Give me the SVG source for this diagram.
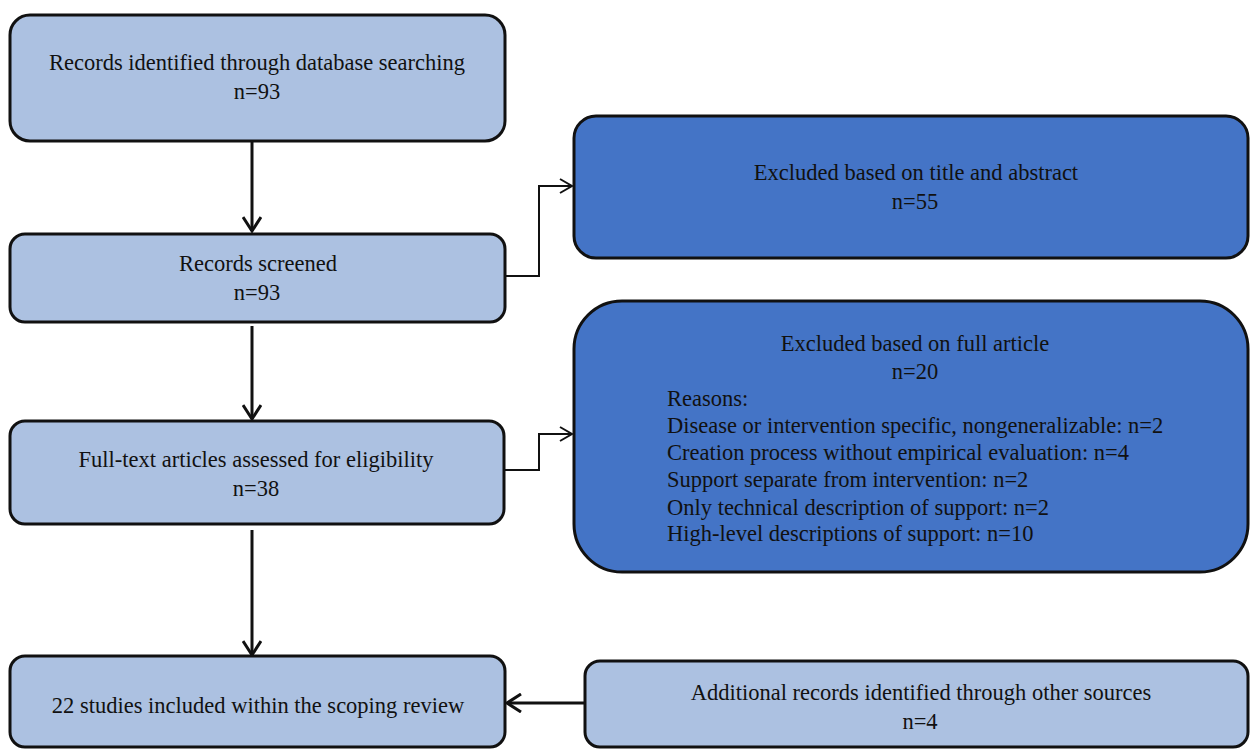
<svg xmlns="http://www.w3.org/2000/svg" width="1250" height="749" viewBox="0 0 1250 749">
  <style>
    .light { fill: #acc1e1; stroke: #111; stroke-width: 3; }
    .dark { fill: #4474c6; stroke: #111; stroke-width: 3; }
    text { font-family: "Liberation Serif", "Times New Roman", serif; font-size: 22.5px; fill: #111; }
    .c { text-anchor: middle; }
    .thick { stroke: #111; stroke-width: 3; fill: none; }
    .thin { stroke: #111; stroke-width: 2; fill: none; }
  </style>
  <defs>
    <marker id="arrowBig" viewBox="0 0 20 20" refX="17" refY="10" markerWidth="20" markerHeight="20" markerUnits="userSpaceOnUse" orient="auto">
      <path d="M3,1 L17,10 L3,19" fill="none" stroke="#111" stroke-width="3"/>
    </marker>
    <marker id="arrowThin" viewBox="0 0 16 16" refX="14" refY="8" markerWidth="16" markerHeight="16" markerUnits="userSpaceOnUse" orient="auto">
      <path d="M2,1 L14,8 L2,15" fill="none" stroke="#111" stroke-width="2"/>
    </marker>
  </defs>
  <rect width="1250" height="749" fill="#ffffff"/>

  <g id="connectors">
    <path class="thick" d="M252,141 V231" marker-end="url(#arrowBig)"/>
    <path class="thick" d="M252,326 V419" marker-end="url(#arrowBig)"/>
    <path class="thick" d="M252,530 V655" marker-end="url(#arrowBig)"/>
    <path class="thick" d="M585,703 H507" marker-end="url(#arrowBig)"/>
    <path class="thin" d="M505,276 H539 V186 H572" marker-end="url(#arrowThin)"/>
    <path class="thin" d="M505,470 H539 V434 H572" marker-end="url(#arrowThin)"/>
  </g>

  <g id="records-identified">
    <rect class="light" x="10" y="15" width="495" height="126" rx="20"/>
    <text class="c" x="257" y="70">Records identified  through  database searching</text>
    <text class="c" x="257" y="99">n=93</text>
  </g>

  <g id="records-screened">
    <rect class="light" x="10" y="234" width="495" height="88" rx="15"/>
    <text class="c" x="258" y="271">Records screened</text>
    <text class="c" x="257" y="300">n=93</text>
  </g>

  <g id="full-text">
    <rect class="light" x="10" y="421" width="494" height="103" rx="15"/>
    <text class="c" x="256" y="467">Full-text  articles  assessed for  eligibility</text>
    <text class="c" x="256" y="496">n=38</text>
  </g>

  <g id="included">
    <rect class="light" x="10" y="656" width="495" height="91" rx="15"/>
    <text class="c" x="258" y="713">22 studies  included  within  the scoping  review</text>
  </g>

  <g id="additional">
    <rect class="light" x="585" y="661" width="663" height="86" rx="15"/>
    <text class="c" x="921" y="700">Additional  records identified  through  other  sources</text>
    <text class="c" x="920" y="729">n=4</text>
  </g>

  <g id="excluded-title">
    <rect class="dark" x="574" y="116" width="674" height="142" rx="22"/>
    <text class="c" x="916" y="180">Excluded  based on title  and abstract</text>
    <text class="c" x="915" y="209">n=55</text>
  </g>

  <g id="excluded-full">
    <rect class="dark" x="574" y="301" width="674" height="271" rx="48"/>
    <text class="c" x="915" y="351">Excluded  based on  full  article</text>
    <text class="c" x="915" y="379">n=20</text>
    <text x="667" y="406">Reasons:</text>
    <text x="667" y="433">Disease or intervention  specific,  nongeneralizable:  n=2</text>
    <text x="667" y="460">Creation  process without  empirical  evaluation:  n=4</text>
    <text x="667" y="487">Support  separate from  intervention:  n=2</text>
    <text x="667" y="515">Only  technical  description  of support:  n=2</text>
    <text x="667" y="541">High-level  descriptions  of support:  n=10</text>
  </g>
</svg>
